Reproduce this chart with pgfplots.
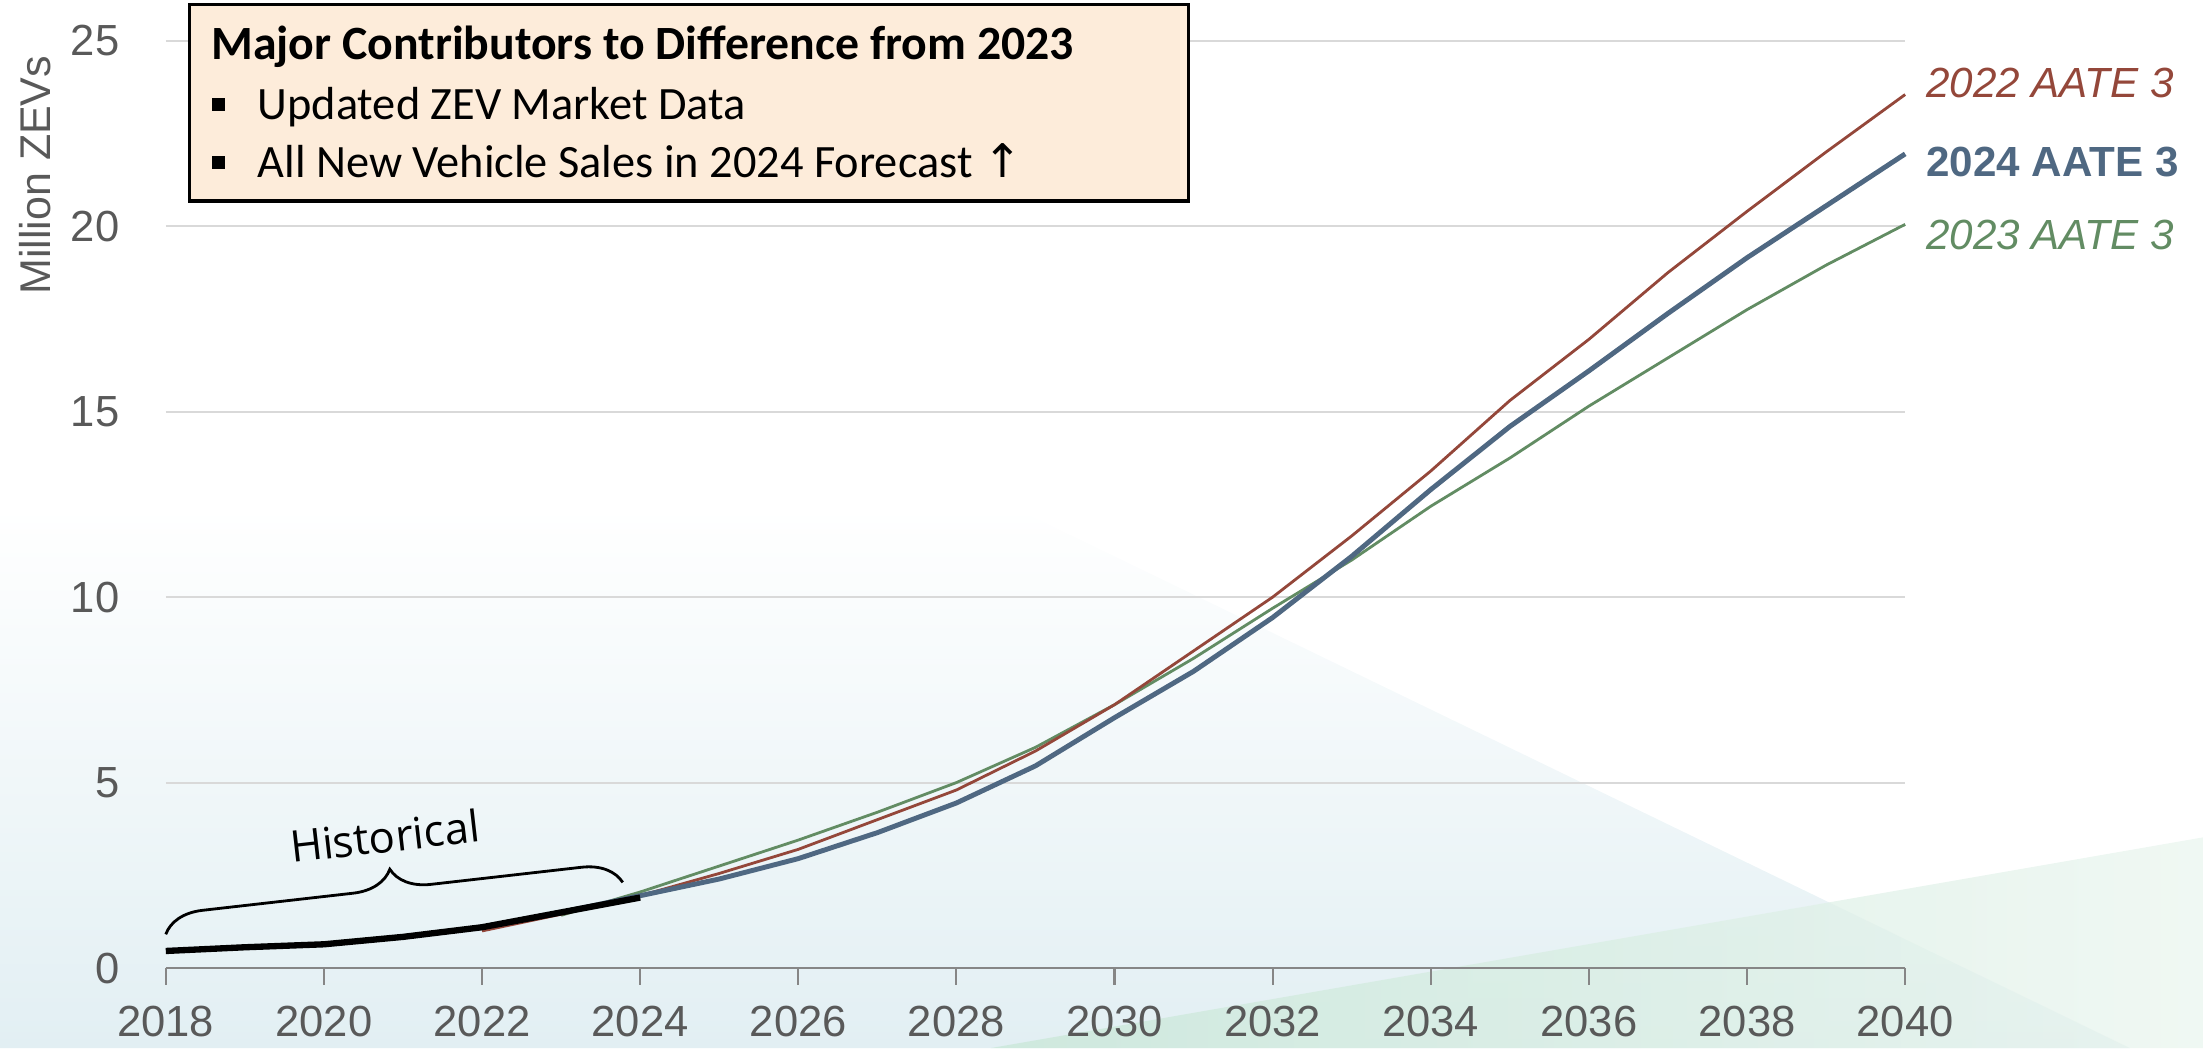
\documentclass[border=0pt]{standalone}
\usepackage{pgfplots}
\pgfplotsset{compat=1.18}
\usepackage{fontspec}
\setmainfont{Liberation Sans}
\newfontfamily\boxfont{Carlito}
\newfontfamily\symfont{DejaVu Sans}
\newfontfamily\histfont{Open Sans}
\usetikzlibrary{decorations.pathreplacing}
\definecolor{cred}{RGB}{148,71,58}
\definecolor{cblue}{RGB}{79,104,130}
\definecolor{cgreen}{RGB}{98,140,99}
\definecolor{tickgray}{RGB}{89,89,89}
\definecolor{gridgray}{RGB}{217,217,217}
\definecolor{axisgray}{RGB}{134,134,134}
\definecolor{peach}{RGB}{253,236,218}
\definecolor{bgblue}{RGB}{226,239,243}
\definecolor{bggreenA}{RGB}{200,231,215}
\definecolor{bggreenB}{RGB}{234,245,239}
\begin{document}
\begin{tikzpicture}
\path[use as bounding box] (0,0) rectangle (784pt,373pt);
\begin{scope}[x=0.5pt,y=-0.5pt,yshift=373pt]
\shade[top color=white, bottom color=bgblue] (0,746) -- (0,360) -- (719,360) -- (1516,746) -- cycle;
\shade[left color=bggreenA, right color=bggreenB, opacity=0.75] (705,746) -- (1568,596) -- (1568,746) -- cycle;
\end{scope}
\begin{axis}[
  at={(59pt,28.5pt)}, anchor=south west,
  width=619pt, height=330pt, scale only axis,
  xmin=2018, xmax=2040, ymin=0, ymax=25,
  xtick={2018,2020,...,2040}, ytick={0,5,...,25},
  axis x line*=bottom, axis y line*=left,
  y axis line style={draw=none},
  x axis line style={axisgray, line width=0.75pt},
  ytick style={draw=none},
  xtick style={axisgray, line width=0.75pt},
  tick align=outside, major tick length=6pt,
  ymajorgrids, grid style={gridgray, line width=0.75pt},
  ticklabel style={font=\fontsize{15.5}{18}\selectfont, text=tickgray},
  /pgf/number format/assume math mode=true,
  /pgf/number format/1000 sep={},
  yticklabel style={xshift=-7pt},
  xticklabel style={yshift=-4pt},
  clip=false,
]
\addplot[cgreen, line width=1pt] coordinates {(2023,1.42)(2024,2.05)(2025,2.75)(2026,3.45)(2027,4.2)(2028,5.0)(2029,5.95)(2030,7.1)(2031,8.35)(2032,9.7)(2033,11.0)(2034,12.45)(2035,13.75)(2036,15.15)(2037,16.45)(2038,17.75)(2039,18.95)(2040,20.05)};
\addplot[cred, line width=1pt] coordinates {(2022,1.0)(2023,1.45)(2024,1.95)(2025,2.55)(2026,3.2)(2027,4.0)(2028,4.8)(2029,5.85)(2030,7.1)(2031,8.55)(2032,10.0)(2033,11.65)(2034,13.4)(2035,15.3)(2036,16.95)(2037,18.75)(2038,20.4)(2039,22.0)(2040,23.55)};
\addplot[cblue, line width=1.75pt] coordinates {(2023,1.5)(2024,1.95)(2025,2.4)(2026,2.95)(2027,3.65)(2028,4.45)(2029,5.45)(2030,6.75)(2031,8.0)(2032,9.45)(2033,11.1)(2034,12.9)(2035,14.6)(2036,16.1)(2037,17.65)(2038,19.15)(2039,20.55)(2040,21.95)};
\addplot[black, line width=2.25pt] coordinates {(2018,0.46)(2019,0.56)(2020,0.64)(2021,0.84)(2022,1.1)(2023,1.5)(2024,1.9)};
\draw[decorate, decoration={brace, amplitude=14pt}, line width=1pt] (axis cs:2018,0.91) -- (axis cs:2023.78,2.31);
\node[rotate=6.5, font=\histfont\fontsize{15.5}{18}\selectfont] at (axis cs:2020.77,3.56) {Historical};
\node[anchor=west, xshift=4pt, text=cred, font=\itshape\fontsize{15}{18}\selectfont] at (axis cs:2040,23.86) {2022 AATE 3};
\node[anchor=west, xshift=4pt, text=cblue, font=\bfseries\fontsize{15}{18}\selectfont] at (axis cs:2040,21.74) {2024 AATE 3};
\node[anchor=west, xshift=4pt, text=cgreen, font=\itshape\fontsize{15}{18}\selectfont] at (axis cs:2040,19.77) {2023 AATE 3};
\node[rotate=90, text=tickgray, font=\fontsize{15.3}{18}\selectfont] at (rel axis cs:-0.075,0.855) {Million ZEVs};
\end{axis}
\begin{scope}[x=0.5pt,y=-0.5pt,yshift=373pt]
\draw[fill=peach, line width=1.2pt] (135,3) rectangle (846,143);
\node[anchor=base west, inner sep=0, font=\boxfont\bfseries\fontsize{17}{20}\selectfont] at (150,42) {Major Contributors to Difference from 2023};
\fill (151,70) rectangle (160,79);
\node[anchor=base west, inner sep=0, font=\boxfont\fontsize{16.5}{20}\selectfont] at (183,85) {Updated ZEV Market Data};
\fill (151,111) rectangle (160,120);
\node[anchor=base west, inner sep=0, font=\boxfont\fontsize{16.5}{20}\selectfont] at (183,126) {All New Vehicle Sales in 2024 Forecast {\symfont ↑}};
\end{scope}
\end{tikzpicture}
\end{document}
